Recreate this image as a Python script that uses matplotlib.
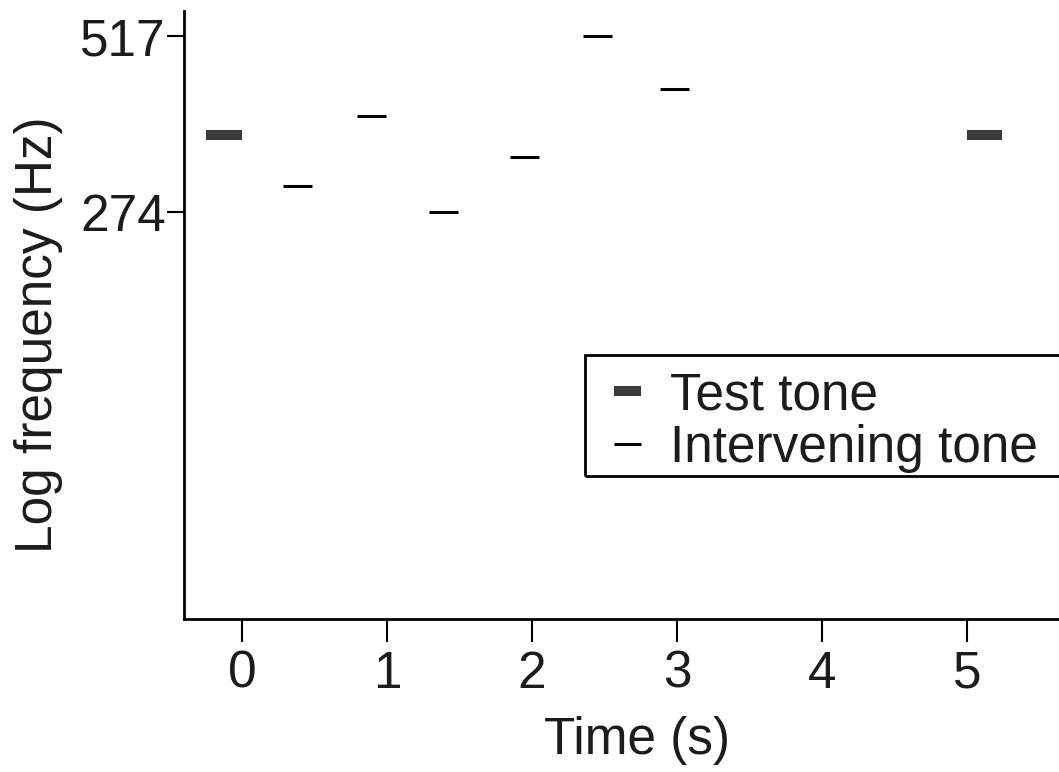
import numpy as np
from matplotlib import pyplot as plt
from matplotlib.patches import Rectangle

plt.rcParams['font.family'] = ['Liberation Sans', 'DejaVu Sans']
plt.rcParams['lines.solid_capstyle'] = 'butt'

# tones: start time (s), duration (s), frequency (Hz)
test_start = [-0.25, 5.0]
test_dur = [0.25, 0.24]
test_freq = [362, 362]

int_start = [0.28, 0.79, 1.29, 1.85, 2.35, 2.88]
int_dur = [0.2, 0.2, 0.2, 0.2, 0.2, 0.2]
int_freq = [301, 387, 274, 334, 517, 427]

xticks = [0, 1, 2, 3, 4, 5]
yticks = [274, 517]

fs = 37
ink = '#1c1c1c'

fig = plt.figure(figsize=(10.59, 7.72), dpi=100)
W, H = 1059., 772.
ax = fig.add_axes([184/W, 1-619/H, (1059-184)/W, (619-11)/H])

ts = np.array(test_start)
te = ts + np.array(test_dur)
tl = ax.hlines(test_freq, ts, te, colors='#3c3c3c', linewidth=7.2, label='Test tone')

is_ = np.array(int_start)
ie = is_ + np.array(int_dur)
il = ax.hlines(int_freq, is_, ie, colors='black', linewidth=2.2, label='Intervening tone')

ax.set_yscale('log')
ax.set_ylim(63.1, 565.8)
ax.set_xlim(-0.4, 5.634)

ax.set_yticks(yticks)
ax.set_yticklabels([str(v) for v in yticks])
ax.yaxis.set_minor_locator(plt.NullLocator())
ax.set_xticks(xticks)
ax.set_xticklabels([str(v) for v in xticks])

ax.spines['top'].set_visible(False)
ax.spines['right'].set_visible(False)
ax.spines['left'].set_linewidth(2.0)
ax.spines['bottom'].set_linewidth(2.0)
ax.tick_params(axis='y', length=12, width=1.5, pad=1, labelsize=fs, labelcolor=ink)
ax.tick_params(axis='x', length=16.5, width=1.5, pad=5.5, labelsize=fs, labelcolor=ink)

ax.set_xlabel('Time (s)', fontsize=fs, color=ink)
ax.set_ylabel('Log frequency (Hz)', fontsize=fs, color=ink)
ax.xaxis.set_label_coords(0.5177, -0.1595)
ax.yaxis.set_label_coords(-0.138, 0.467)

ax.legend(handles=[tl, il], loc='upper left',
          bbox_to_anchor=(614/W, 1-371/H), bbox_transform=fig.transFigure,
          frameon=False, borderpad=0, borderaxespad=0,
          handlelength=0.53, handletextpad=0.56, labelspacing=0.08,
          fontsize=fs, labelcolor=ink)

# legend box runs off the right edge of the page
box = Rectangle((585/W, 1-476/H), (1080-585)/W, 121/H, transform=fig.transFigure,
                fill=False, edgecolor='black', linewidth=2.0, clip_on=False)
fig.add_artist(box)

fig.savefig('out.png', dpi=100, facecolor='white')
